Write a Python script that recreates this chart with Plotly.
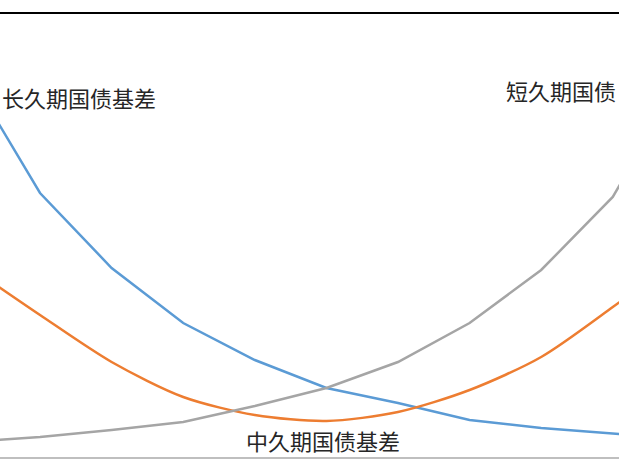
import plotly.graph_objects as go

# duration buckets (x positions of the original Excel line chart)
x_idx = [0, 1, 2, 3, 4, 5, 6, 7, 8, 9, 10]

# basis values (arbitrary units)
long_basis = [385, 265, 190, 135, 98, 70, 55, 38, 30, 25, 19]
mid_basis = [192, 143, 96, 61, 43, 37, 46, 68, 101, 151, 205]
short_basis = [16, 21, 28, 36, 52, 70, 96, 135, 188, 261, 385]

W, H = 619, 463
font_cjk = "Noto Sans CJK SC, Noto Sans, sans-serif"

fig = go.Figure()
fig.add_trace(go.Scatter(x=x_idx, y=long_basis, mode="lines",
                         line=dict(color="#5B9BD5", width=2.5), name="长久期国债基差"))
fig.add_trace(go.Scatter(x=x_idx, y=mid_basis, mode="lines",
                         line=dict(color="#ED7D31", width=2.5, shape="spline", smoothing=0.8),
                         name="中久期国债基差"))
fig.add_trace(go.Scatter(x=x_idx, y=short_basis, mode="lines",
                         line=dict(color="#A5A5A5", width=2.5), name="短久期国债基差"))

# bottom axis line and the top rule of the cropped figure frame
fig.add_shape(type="line", xref="paper", yref="y", x0=0, x1=1, y0=0, y1=0,
              line=dict(color="#BFBFBF", width=2))
fig.add_shape(type="line", xref="paper", yref="paper", x0=0, x1=1,
              y0=1 - 13 / H, y1=1 - 13 / H, line=dict(color="#000000", width=2))

# labels as they appear in the cropped picture
labels = [
    ("长久期国债基差", 0, 97, "left"),
    ("短久期国债", 618, 90, "right"),
    ("中久期国债基差", 323, 440, "center"),
]
for txt, px, py, anchor in labels:
    fig.add_annotation(text=txt, xref="paper", yref="paper",
                       x=px / W, y=1 - py / H, xanchor=anchor, yanchor="middle",
                       showarrow=False,
                       font=dict(family=font_cjk, size=22, color="#262626"))

fig.update_layout(
    width=W, height=H,
    margin=dict(l=0, r=0, t=0, b=0),
    paper_bgcolor="white", plot_bgcolor="white",
    showlegend=False,
    xaxis=dict(range=[0.441, 9.087], visible=False, fixedrange=True),
    yaxis=dict(range=[-5, 458], visible=False, fixedrange=True),
)

fig.write_html("out.html", config={"displayModeBar": False},
               post_script="document.body.style.margin='0';")
